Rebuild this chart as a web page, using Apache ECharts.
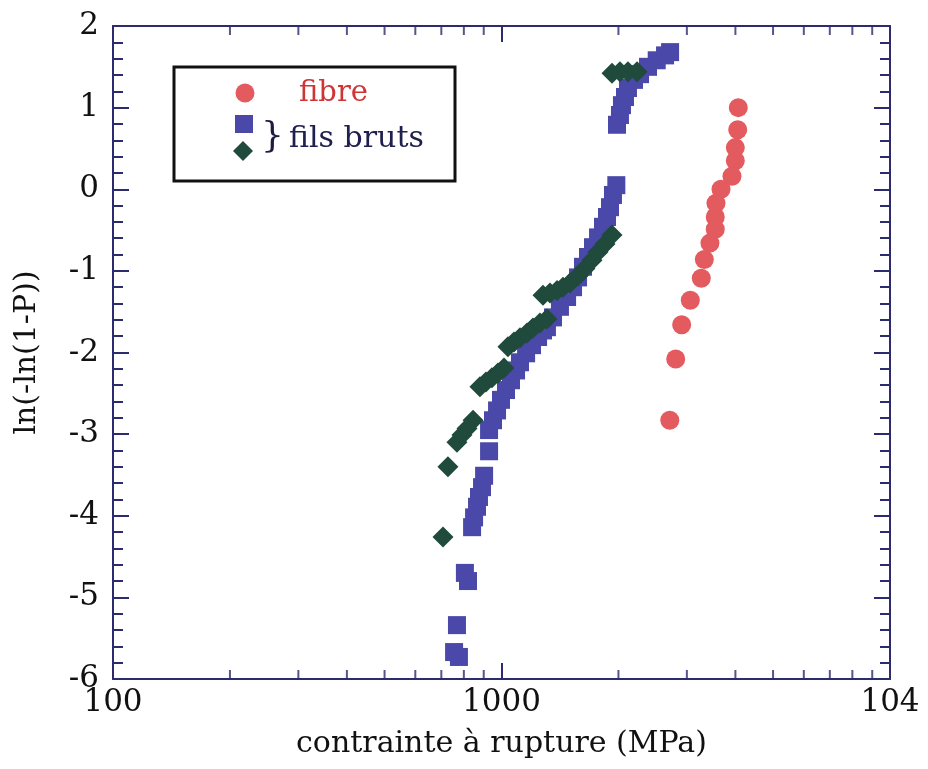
<!DOCTYPE html>
<html>
<head>
<meta charset="utf-8">
<script src="https://cdn.jsdelivr.net/npm/echarts@6/dist/echarts.min.js"></script>
<style>html,body{margin:0;padding:0;background:#fff}#c{width:928px;height:769px}</style>
</head>
<body>
<div id="c"></div>
<script>
// ---- data ----
const fibreStress = [4069,4055,3998,3998,3920,3673,3565,3550,3550,3440,3327,3268,3062,2909,2808,2711];
const fibreLnLn   = [1.00,0.73,0.51,0.35,0.16,0.00,-0.17,-0.34,-0.49,-0.66,-0.86,-1.09,-1.36,-1.66,-2.08,-2.83];

const filsAStress = [755,777,768,805,820,840,850,865,875,891,902,929,929,951,974,997,1027,1058,1090,1116,1157,1198,1242,1279,1309,1357,1414,1475,1528,1574,1621,1670,1720,1772,1825,1869,1902,1936,1975,1983,2018,2042,2079,2116,2193,2273,2383,2509,2636,2716];
const filsALnLn   = [-5.67,-5.73,-5.34,-4.70,-4.80,-4.14,-4.02,-3.89,-3.77,-3.65,-3.51,-3.21,-2.95,-2.83,-2.71,-2.58,-2.46,-2.34,-2.22,-2.12,-2.01,-1.91,-1.81,-1.73,-1.69,-1.57,-1.44,-1.32,-1.20,-1.08,-0.95,-0.83,-0.71,-0.59,-0.46,-0.34,-0.22,-0.07,0.05,0.79,0.91,1.03,1.13,1.24,1.34,1.41,1.50,1.58,1.64,1.68];

const filsBStress = [707,728,768,791,815,845,880,912,945,979,1015,1039,1077,1116,1163,1205,1256,1309,1279,1333,1390,1440,1501,1574,1640,1710,1772,1847,1925,1925,2018,2116,2233];
const filsBLnLn   = [-4.26,-3.40,-3.10,-3.01,-2.93,-2.83,-2.42,-2.36,-2.31,-2.25,-2.19,-1.93,-1.87,-1.82,-1.76,-1.70,-1.64,-1.59,-1.30,-1.27,-1.24,-1.20,-1.15,-1.06,-0.97,-0.87,-0.77,-0.67,-0.56,1.42,1.44,1.44,1.44];

const xMinorTicks = [200,300,400,500,600,700,800,900,2000,3000,4000,5000,6000,7000,8000,9000];
const xTickLabels = {100:'100',1000:'1000',10000:'104'};
const yMin = -6, yMax = 2;

const xAxisTitle = 'contrainte à rupture (MPa)';
const yAxisTitle = 'ln(-ln(1-P))';

// ---- style ----
const NAVY = '#2b2b6e';
const FONT = 'DejaVu Serif';
const zip = (a,b) => a.map((v,i)=>[v,b[i]]);

const axisLineStyle = {color: NAVY, width: 2};
const chart = echarts.init(document.getElementById('c'), null, {renderer:'canvas'});

const xCommon = {
  type:'log', logBase:10, min:100, max:10000, interval:1,
  splitLine:{show:false}, minorTick:{show:false},
  axisLine:{show:true, onZero:false, lineStyle:axisLineStyle},
  axisTick:{show:true, inside:true, length:16, lineStyle:{color:NAVY, width:2}}
};
const yCommon = {
  type:'value', min:yMin, max:yMax, interval:1,
  splitLine:{show:false}, minorSplitLine:{show:false},
  axisLine:{show:true, onZero:false, lineStyle:axisLineStyle},
  axisTick:{show:true, inside:true, length:16, lineStyle:{color:NAVY, width:2}},
  minorTick:{show:true, splitNumber:5, length:10, lineStyle:{color:NAVY, width:2}}
};

const option = {
  animation:false,
  backgroundColor:'#fff',
  grid:{left:113, right:38, top:26, bottom:90},
  xAxis:[
    Object.assign({}, xCommon, {
      position:'bottom',
      axisLabel:{show:true, margin:8, fontFamily:FONT, fontSize:31, color:'#111',
        showMinLabel:true, showMaxLabel:true,
        formatter:v => xTickLabels[Math.round(v)] || ''},
      name:xAxisTitle, nameLocation:'middle', nameGap:50,
      nameTextStyle:{fontFamily:FONT, fontSize:30, color:'#111'}
    }),
    Object.assign({}, xCommon, {position:'top', axisLabel:{show:false}})
  ],
  yAxis:[
    Object.assign({}, yCommon, {
      position:'left',
      axisLabel:{show:true, margin:14, fontFamily:FONT, fontSize:31, color:'#111'},
      name:yAxisTitle, nameLocation:'middle', nameGap:71, nameRotate:90,
      nameTextStyle:{fontFamily:FONT, fontSize:30, color:'#111'}
    }),
    Object.assign({}, yCommon, {position:'right', axisLabel:{show:false}})
  ],
  graphic:[
    {type:'rect', shape:{x:174, y:67, width:281, height:114},
     style:{fill:'#fff', stroke:'#111', lineWidth:3}, z:10},
    {type:'circle', shape:{cx:245, cy:93, r:9.5},
     style:{fill:'#e35a5f'}, z:11},
    {type:'text', x:299, y:93, style:{text:'fibre', fill:'#cf3535', font:'29px "DejaVu Serif"', verticalAlign:'middle'}, z:11},
    {type:'rect', shape:{x:235, y:115, width:18, height:18},
     style:{fill:'#4a48a8'}, z:11},
    {type:'polygon', shape:{points:[[243,141],[253,151],[243,161],[233,151]]},
     style:{fill:'#1f4a3c'}, z:11},
    {type:'text', x:261, y:138, style:{text:'}', fill:'#1c1c40', font:'36px "DejaVu Serif"', verticalAlign:'middle'}, z:11},
    {type:'text', x:289, y:139, style:{text:'fils bruts', fill:'#20204e', font:'30px "DejaVu Serif"', verticalAlign:'middle'}, z:11}
  ],
  series:[
    {type:'scatter', name:'fils bruts (carrés)', data:zip(filsAStress, filsALnLn),
     symbol:'rect', symbolSize:18, itemStyle:{color:'#4a48a8', opacity:1}, z:2},
    {type:'scatter', name:'fils bruts (losanges)', data:zip(filsBStress, filsBLnLn),
     symbol:'diamond', symbolSize:[21,21], itemStyle:{color:'#1f4a3c', opacity:1}, z:3},
    {type:'scatter', name:'fibre', data:zip(fibreStress, fibreLnLn),
     symbol:'circle', symbolSize:19, itemStyle:{color:'#e35a5f', opacity:1}, z:4},
    // minor ticks of the logarithmic x axes (bottom and top)
    {type:'scatter', silent:true, clip:false, data:xMinorTicks.map(v=>[v,yMin]),
     symbol:'rect', symbolSize:[2,9], symbolOffset:[0,-4.5], itemStyle:{color:NAVY}, z:5},
    {type:'scatter', silent:true, clip:false, data:xMinorTicks.map(v=>[v,yMax]),
     symbol:'rect', symbolSize:[2,9], symbolOffset:[0,4.5], itemStyle:{color:NAVY}, z:5}
  ]
};
chart.setOption(option);
</script>
</body>
</html>
